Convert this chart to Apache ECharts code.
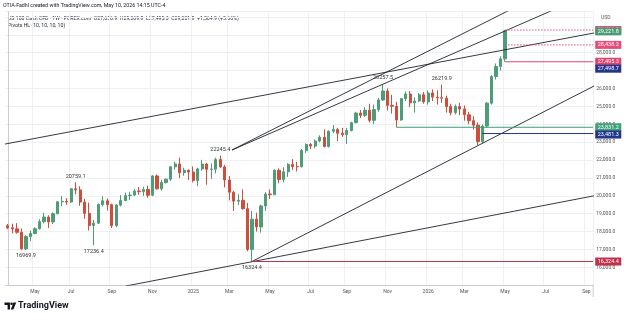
<!DOCTYPE html>
<html>
<head>
<meta charset="utf-8">
<title>US 100 Cash CFD 1W</title>
<script src="https://cdn.jsdelivr.net/npm/echarts@6.0.0/dist/echarts.min.js"></script>
<style>
  html, body { margin: 0; padding: 0; background: #fff; }
  #chart { width: 625px; height: 320px; }
</style>
</head>
<body>
<div id="chart"></div>
<script>
// weekly bars, first bar is the week of 2024-03-25, the axis runs 130 weeks (empty space on the right)
var firstWeek = Date.UTC(2024, 2, 25);
var weekCount = 130;
var monthNames = ['Jan', 'Feb', 'Mar', 'Apr', 'May', 'Jun', 'Jul', 'Aug', 'Sep', 'Oct', 'Nov', 'Dec'];

// [open, close, low, high]
var candles = [
    [18330, 18210, 18130, 18420], [18210, 18150, 17900, 18440], [18150, 17960, 17880, 18470],
    [17960, 17030, 16990, 18170], [17030, 17720, 16969.9, 17810], [17720, 17890, 17470, 18060],
    [17890, 18160, 17850, 18240], [18160, 18550, 18110, 18690], [18550, 18810, 18460, 19050],
    [18810, 18540, 18200, 18910], [18540, 19000, 18420, 19070], [19000, 19660, 18960, 19710],
    [19660, 19690, 19420, 19980], [19690, 19650, 19500, 19870], [19650, 20390, 19600, 20430],
    [20390, 20330, 20080, 20759.1], [20330, 19650, 19440, 20530], [19650, 19020, 18710, 19830],
    [19020, 18340, 18060, 19620], [18340, 18470, 17236.4, 18650], [18470, 19510, 18430, 19570],
    [19510, 19720, 19400, 19970], [19720, 19500, 19170, 19850], [19500, 18330, 18200, 19560],
    [18330, 19480, 18240, 19540], [19480, 19730, 19400, 20040], [19730, 20010, 19700, 20180],
    [20010, 20040, 19760, 20220], [20040, 20270, 19980, 20370], [20270, 20230, 20060, 20490],
    [20230, 20350, 19990, 20510], [20350, 20030, 19890, 20570], [20030, 21110, 19970, 21160],
    [21110, 20390, 20350, 21200], [20390, 20740, 20290, 20890], [20740, 20930, 20680, 20970],
    [20930, 21620, 20830, 21670], [21620, 21780, 21460, 21910], [21780, 21290, 20990, 22133],
    [21290, 21430, 21120, 21570], [21430, 21330, 20880, 21470],
    // 2025
    [21330, 20850, 20750, 21640], [20850, 21505, 20540, 21570], [21505, 21775, 21400, 22010],
    [21775, 21480, 20620, 21840], [21480, 21490, 20950, 21810], [21490, 22030, 21250, 22130],
    [22030, 21615, 21560, 22245.4], [21615, 20885, 20470, 21720], [20885, 20200, 19740, 21100],
    [20200, 19700, 19150, 20290], [19700, 19750, 19480, 20090], [19750, 19280, 19220, 20360],
    [19280, 17000, 16900, 19600], [17000, 18690, 16324.4, 19150], [18690, 18260, 18000, 19050],
    [18260, 19430, 17940, 19500], [19430, 20100, 19150, 20200], [20100, 20060, 19820, 20350],
    [20060, 21430, 20050, 21480], [21430, 20915, 20700, 21530], [20915, 21340, 20750, 21600],
    [21340, 21760, 21060, 21820], [21760, 21630, 21450, 22050], [21630, 21625, 21360, 21900],
    [21625, 22530, 21580, 22620], [22530, 22870, 22400, 22920], [22870, 22780, 22620, 22950],
    [22780, 23065, 22650, 23150], [23065, 23270, 22990, 23380], [23270, 22760, 22700, 23720],
    [22760, 23610, 22700, 23660], [23610, 23710, 23500, 23960], [23710, 23500, 23050, 23800],
    [23500, 23420, 23300, 23800], [23420, 23650, 22900, 23800], [23650, 24090, 23600, 24140],
    [24090, 24625, 24050, 24700], [24625, 24500, 24350, 24800], [24500, 24785, 24400, 24950],
    [24785, 24220, 24100, 25150], [24220, 24820, 24000, 25100], [24820, 25360, 24700, 25470],
    [25360, 25860, 25300, 26257.5], [25860, 25060, 24770, 26000], [25060, 25010, 24600, 25650],
    [25010, 24240, 23831.2, 25250], [24240, 25430, 24200, 25460], [25430, 25690, 25300, 25840],
    [25690, 25200, 24950, 25860], [25200, 25300, 24650, 25500], [25300, 25650, 25250, 25750],
    [25650, 25250, 25150, 25800],
    // 2026
    [25250, 25750, 25100, 25900], [25750, 25520, 25300, 25950], [25520, 25480, 25100, 25900],
    [25480, 25460, 25200, 26219.9], [25460, 24990, 24650, 25600], [24990, 24650, 24500, 25150],
    [24650, 24990, 24550, 25100], [24990, 24850, 24500, 25200], [24850, 24530, 24200, 25050],
    [24530, 24200, 24000, 24700], [24200, 23950, 23700, 24450], [23950, 23030, 22840, 24100],
    [23030, 23900, 22940, 23990], [23900, 25180, 23800, 25250], [25180, 26670, 25100, 26750],
    [26670, 27230, 26500, 27400], [27230, 27656.9, 27000, 27800], [27656.9, 29221.8, 27495.3, 29269.8]
];

// Pivots HL labels
var pivotWeeks = ['2024-04-22', '2024-07-08', '2024-08-05', '2025-02-17', '2025-04-07', '2025-10-27', '2026-01-26'];
var pivotPrices = [16969.9, 20759.1, 17236.4, 22245.4, 16324.4, 26257.5, 26219.9];
var pivotSides = ['bottom', 'top', 'bottom', 'top', 'bottom', 'top', 'top'];

// drawn trend lines: [week number, price] at each end
var trendLines = [
    [[49.6, 22562], [115, 30894]],
    [[49.6, 22562], [125, 30871]],
    [[-3, 22780], [129.7, 29105]],
    [[54, 16324.4], [129.7, 26141]],
    [[26, 14950], [129.7, 20000]]
];

// horizontal levels with a tag on the price scale
var levelPrices = [16324.4, 23831.2, 23481.3, 28438.2, 27495.3, 29269.8];
var levelStarts = [54, 86, 105, 110, 110, 110];
// tags without a visible line
var tagPrices = [27498.7, 29221.8];

var weeks = [];
for (var i = 0; i < weekCount; i++) {
    weeks.push(new Date(firstWeek + i * 7 * 864e5).toISOString().slice(0, 10));
}

function fmt(v) {
    return v.toLocaleString('en-US', {minimumFractionDigits: 1, maximumFractionDigits: 1});
}

function monthTick(index) {
    if (index === 0) return false;
    var m = +weeks[index].slice(5, 7);
    var pm = +weeks[index - 1].slice(5, 7);
    return m !== pm && m % 2 === 1;
}

var FONT = 'Roboto, "Noto Sans", sans-serif';
var UP = '#4f9c79';
var DOWN = '#cc4e3c';
var GRID = '#eef0f4';

var series = [];

series.push({
    type: 'candlestick',
    data: candles,
    barWidth: 2.7,
    itemStyle: {color: UP, color0: DOWN, borderColor: UP, borderColor0: DOWN, borderWidth: 1},
    markPoint: {
        symbol: 'circle',
        symbolSize: 0,
        silent: true,
        data: pivotWeeks.map(function (w, k) {
            return {
                coord: [w, pivotPrices[k]],
                value: pivotPrices[k],
                label: {show: true, position: pivotSides[k], distance: 3}
            };
        }),
        label: {fontSize: 5.5, color: '#333', fontFamily: FONT, formatter: function (p) { return String(p.value); }}
    },
    z: 2
});

trendLines.forEach(function (pts) {
    series.push({
        type: 'line',
        xAxisIndex: 1,
        data: pts,
        symbol: 'none',
        silent: true,
        clip: true,
        lineStyle: {color: '#1e222d', width: 0.9},
        z: 3
    });
});

var levelColors = ['#c2304b', '#3e9f78', '#23358c', '#e84c7a', '#e0436d', '#e84c7a'];
var levelTypes = ['solid', 'solid', 'solid', [1.5, 1.5], 'solid', [1.5, 1.5]];
var levelShift = [0, 0, 1, 0, 0, 0];

function tagLabel(price, color, dy) {
    return {
        show: true,
        formatter: fmt(price),
        backgroundColor: color,
        color: '#fff',
        fontSize: 5.5,
        fontFamily: FONT,
        padding: [1.2, 2.5, 0.8, 2.5],
        distance: 2,
        offset: [0, dy]
    };
}

levelPrices.forEach(function (p, k) {
    series.push({
        type: 'line',
        xAxisIndex: 1,
        data: [[levelStarts[k], p], [129.5, p]],
        symbol: 'none',
        silent: true,
        lineStyle: {color: levelColors[k], width: 1, type: levelTypes[k]},
        endLabel: tagLabel(p, levelColors[k], levelShift[k]),
        z: 4
    });
});

var tagColors = ['#23358c', '#4c9a73'];
var tagShift = [7, 0.5];
tagPrices.forEach(function (p, k) {
    series.push({
        type: 'line',
        xAxisIndex: 1,
        data: [[110, p], [129.5, p]],
        symbol: 'none',
        silent: true,
        lineStyle: {opacity: 0},
        endLabel: tagLabel(p, tagColors[k], tagShift[k]),
        z: 5
    });
});

var chart = echarts.init(document.getElementById('chart'));
chart.setOption({
    animation: false,
    backgroundColor: '#fff',
    textStyle: {fontFamily: FONT},
    grid: {left: 5.6, right: 31.8, top: 11.6, bottom: 34.8, containLabel: false, outerBoundsMode: 'none'},
    xAxis: [{
        type: 'category',
        data: weeks,
        boundaryGap: true,
        axisLine: {lineStyle: {color: '#c9ccd2', width: 1}},
        axisTick: {show: false},
        axisLabel: {
            interval: monthTick,
            fontSize: 5,
            color: '#555',
            margin: 4,
            formatter: function (v) {
                var m = +v.slice(5, 7);
                return m === 1 ? v.slice(0, 4) : monthNames[m - 1];
            }
        },
        splitLine: {show: true, interval: monthTick, lineStyle: {color: GRID, width: 1}}
    }, {
        type: 'value',
        min: -0.5,
        max: 129.5,
        show: false
    }],
    yAxis: {
        type: 'value',
        position: 'right',
        min: 15000,
        max: 30300,
        interval: 1000,
        axisLine: {show: true, lineStyle: {color: '#c9ccd2', width: 1}},
        axisTick: {show: false},
        axisLabel: {
            fontSize: 5,
            color: '#555',
            margin: 3,
            formatter: function (v) { return (v < 16000 || v > 28500) ? '' : fmt(v); }
        },
        splitLine: {lineStyle: {color: GRID, width: 1}}
    },
    graphic: [
        {type: 'text', x: 3, y: 6, style: {text: 'OTIA-Fadhl created with TradingView.com, May 10, 2026 14:15 UTC-4', fontSize: 5.3, fill: '#131722', fontFamily: FONT, verticalAlign: 'middle'}},
        {type: 'text', x: 8, y: 18.3, style: {text: 'US 100 Cash CFD \u00b7 1W \u00b7 FOREX.com  O27,656.9  H29,269.8  L27,495.3  C29,221.8  +1,564.9 (+5.66%)', fontSize: 5.2, fill: '#2a2e39', fontFamily: FONT, verticalAlign: 'middle'}},
        {type: 'text', x: 8, y: 25.5, style: {text: 'Pivots HL (10, 10, 10, 10)', fontSize: 5.2, fill: '#2a2e39', fontFamily: FONT, verticalAlign: 'middle'}},
        {type: 'text', x: 601, y: 18, style: {text: 'USD', fontSize: 5, fill: '#555', fontFamily: FONT, verticalAlign: 'middle'}},
        {type: 'line', shape: {x1: 593.2, y1: 284.8, x2: 593.2, y2: 297}, style: {stroke: '#c9ccd2', lineWidth: 1}},
        {type: 'polygon', shape: {points: [[4.5, 302.5], [10, 302.5], [10, 309.5], [7.6, 309.5], [7.6, 305], [4.5, 305]]}, style: {fill: '#131722'}},
        {type: 'circle', shape: {cx: 11.6, cy: 303.8, r: 1.3}, style: {fill: '#131722'}},
        {type: 'polygon', shape: {points: [[13.4, 302.5], [16.2, 302.5], [13.4, 309.5], [10.8, 309.5]]}, style: {fill: '#131722'}},
        {type: 'text', x: 18, y: 306.2, style: {text: 'TradingView', fontSize: 9, fontWeight: 'bold', fill: '#131722', fontFamily: FONT, verticalAlign: 'middle'}}
    ],
    series: series
});
</script>
</body>
</html>
